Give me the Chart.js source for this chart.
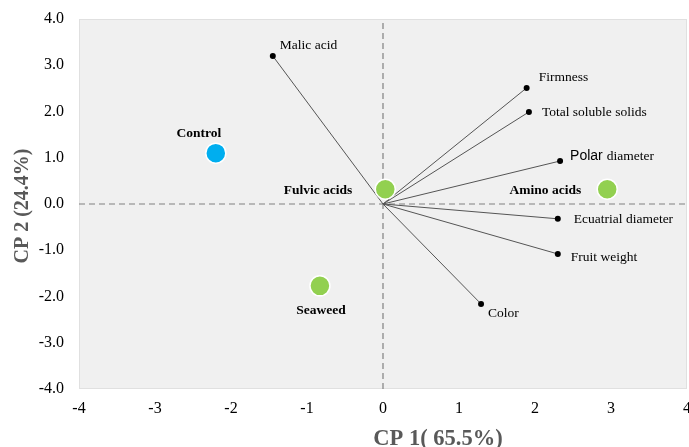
<!DOCTYPE html>
<html>
<head>
<meta charset="utf-8">
<script src="https://cdn.jsdelivr.net/npm/chart.js@4/dist/chart.umd.min.js"></script>
<style>
  html, body { margin:0; padding:0; background:#fff; overflow:hidden; }
  canvas { display:block; }
</style>
</head>
<body>
<canvas id="pca" width="689" height="447"></canvas>
<script>
/* ── Loadings (variables) ── */
const varNames = ['Malic acid','Firmness','Total soluble solids','Polar diameter','Ecuatrial diameter','Fruit weight','Color'];
const varX     = [-1.45, 1.89, 1.92, 2.33, 2.30, 2.30, 1.29];
const varY     = [ 3.20, 2.51, 1.99, 0.93, -0.32, -1.08, -2.16];

/* ── Scores (treatments) ── */
const trtNames = ['Control','Fulvic acids','Amino acids','Seaweed'];
const trtX     = [-2.20, 0.03, 2.95, -0.83];
const trtY     = [ 1.10, 0.32, 0.32, -1.77];
const trtColor = ['#00AEEF','#92D050','#92D050','#92D050'];

/* ── Axes ── */
const xTicks = [-4,-3,-2,-1,0,1,2,3,4];
const yTicks = [-4,-3,-2,-1,0,1,2,3,4];
const xTitle = 'CP 1( 65.5%)';
const yTitle = 'CP 2 (24.4%)';

const SERIF = '"Liberation Serif", "DejaVu Serif", serif';

// label placement: [dx, dy, align]
const varLabelPos = [
  [7,-11,'left'],[12,-10,'left'],[13,0,'left'],[10,-5,'left'],
  [16,1,'left'],[13,4,'left'],[7,10,'left']
];
const trtLabelPos = [[-17,-20,'center'],[-33,1,'right'],[-26,1,'right'],[1,25,'center']];

const plotBg = {
  id:'plotBg',
  beforeDraw(chart) {
    const { ctx, chartArea:a } = chart;
    ctx.save();
    ctx.fillStyle = '#F0F0F0';
    ctx.fillRect(a.left, a.top, a.right - a.left, a.bottom - a.top);
    ctx.strokeStyle = '#E0E0E0';
    ctx.lineWidth = 1;
    ctx.strokeRect(a.left + 0.5, a.top + 0.5, a.right - a.left - 1, a.bottom - a.top - 1);
    ctx.restore();
  }
};

const labelsAndTitles = {
  id:'labelsAndTitles',
  afterDatasetsDraw(chart) {
    const { ctx, scales:{x, y}, chartArea:a } = chart;
    ctx.save();
    ctx.fillStyle = '#000';
    ctx.textBaseline = 'middle';
    varNames.forEach((n, i) => {
      const px = x.getPixelForValue(varX[i]), py = y.getPixelForValue(varY[i]);
      const [dx, dy, al] = varLabelPos[i];
      ctx.textAlign = al;
      if (n === 'Polar diameter') {
        // "Polar" is set in a sans face in the original
        ctx.font = '14px "Liberation Sans", Arial, sans-serif';
        ctx.fillText('Polar', px + dx, py + dy);
        const w = ctx.measureText('Polar ').width;
        ctx.font = '13.5px ' + SERIF;
        ctx.fillText('diameter', px + dx + w, py + dy);
      } else {
        ctx.font = '13.5px ' + SERIF;
        ctx.fillText(n, px + dx, py + dy);
      }
    });
    ctx.font = 'bold 13.5px ' + SERIF;
    trtNames.forEach((n, i) => {
      const px = x.getPixelForValue(trtX[i]), py = y.getPixelForValue(trtY[i]);
      const [dx, dy, al] = trtLabelPos[i];
      ctx.textAlign = al;
      ctx.fillText(n, px + dx, py + dy);
    });

    // axis titles
    ctx.fillStyle = '#595959';
    ctx.textAlign = 'center';
    ctx.font = 'bold 22.5px ' + SERIF;
    ctx.fillText(xTitle, 438, 439);
    ctx.translate(23, (a.top + a.bottom) / 2 + 2);
    ctx.rotate(-Math.PI / 2);
    ctx.font = 'bold 20px ' + SERIF;
    ctx.fillText(yTitle, 0, 0);
    ctx.restore();
  }
};

const vectorSets = varNames.map((n, i) => ({
  label:n,
  data:[{x:0, y:0}, {x:varX[i], y:varY[i]}],
  showLine:true,
  borderColor:'#555555',
  borderWidth:1,
  pointRadius:[0, 3],
  pointBackgroundColor:'#000',
  pointBorderColor:'#000',
  pointBorderWidth:0,
  order:2
}));

const datasets = [
  { label:'h0', data:[{x:-4,y:0},{x:4,y:0}], showLine:true, borderColor:'#808080', borderWidth:1.2, borderDash:[6,4], pointRadius:0, order:3 },
  { label:'v0', data:[{x:0,y:-4},{x:0,y:4}], showLine:true, borderColor:'#808080', borderWidth:1.2, borderDash:[6,4], pointRadius:0, order:3 },
  ...vectorSets,
  {
    label:'scores',
    data:trtNames.map((n, i) => ({x:trtX[i], y:trtY[i]})),
    pointRadius:10,
    pointBackgroundColor:trtColor,
    pointBorderColor:'#FFFFFF',
    pointBorderWidth:1.5,
    order:1
  }
];

new Chart(document.getElementById('pca'), {
  type:'scatter',
  data:{ datasets },
  options:{
    responsive:false, animation:false,
    // no auto padding for point radius, so the plot reaches the right edge
    layout:{ autoPadding:false, padding:{ top:19, right:2, left:0, bottom:0 } },
    plugins:{ legend:{ display:false }, tooltip:{ enabled:false } },
    scales:{
      x:{
        type:'linear', min:-4, max:4,
        afterBuildTicks: s => { s.ticks = xTicks.map(v => ({value:v})); },
        afterFit: s => { s.height = 58; s.paddingLeft = 0; s.paddingRight = 0; },
        grid:{ display:true, drawOnChartArea:false, drawTicks:true, tickLength:10, color:'transparent', tickColor:'transparent' },
        border:{ display:false },
        ticks:{ color:'#000', padding:0, maxRotation:0, font:{ family:SERIF, size:16 }, callback:v => String(v) }
      },
      y:{
        type:'linear', min:-4, max:4,
        afterBuildTicks: s => { s.ticks = yTicks.map(v => ({value:v})); },
        afterFit: s => { s.width = 79; s.paddingTop = 0; s.paddingBottom = 0; },
        grid:{ display:false, drawTicks:false },
        border:{ display:false },
        ticks:{ color:'#000', padding:15, font:{ family:SERIF, size:16 }, callback:v => Number(v).toFixed(1) }
      }
    }
  },
  plugins:[plotBg, labelsAndTitles]
});
</script>
</body>
</html>
